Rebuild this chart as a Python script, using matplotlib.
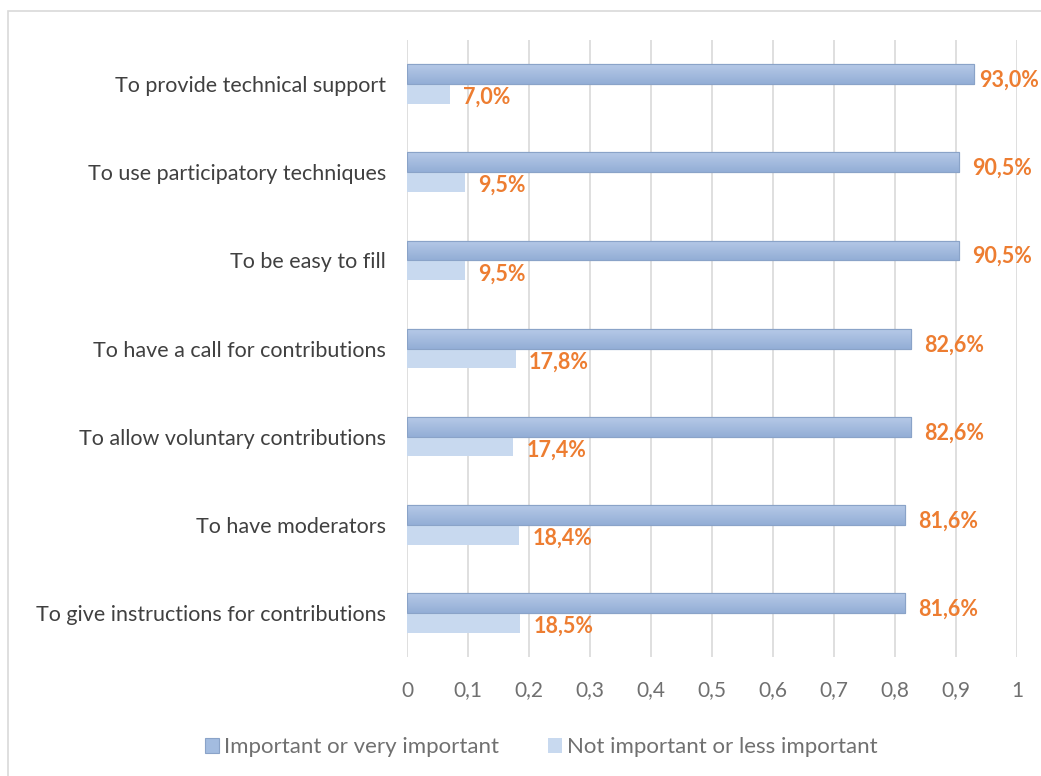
import matplotlib.pyplot as plt
import numpy as np
from matplotlib.patches import Rectangle
from matplotlib.colors import LinearSegmentedColormap

# Survey results: share of respondents per requirement
categories = [
    "To provide technical support",
    "To use participatory techniques",
    "To be easy to fill",
    "To have a call for contributions",
    "To allow voluntary contributions",
    "To have moderators",
    "To give instructions for contributions",
]
important = [0.930, 0.905, 0.905, 0.826, 0.826, 0.816, 0.816]
not_important = [0.070, 0.095, 0.095, 0.178, 0.174, 0.184, 0.185]
series_names = ["Important or very important", "Not important or less important"]
xticks = [0, 0.1, 0.2, 0.3, 0.4, 0.5, 0.6, 0.7, 0.8, 0.9, 1]

plt.rcParams['font.family'] = ['Lato', 'DejaVu Sans']

fig = plt.figure(figsize=(10.41, 7.76), dpi=100)
ax = fig.add_axes([0.391, 0.1534, 0.586, 0.795])

# outer frame around the chart area
fig.patches.append(Rectangle((8 / 1041, -0.1), 1.1, 1.1 - 11 / 776, transform=fig.transFigure,
                             fill=False, edgecolor='#D9D9D9', linewidth=1.2))

y = np.arange(len(categories))
h = 0.225
dark_col = '#A3BCE0'
light_col = '#C8D9EF'
b1 = ax.barh(y - h / 2, important, height=h, color=dark_col, edgecolor='#8AA3C8',
             linewidth=0.8, label=series_names[0], zorder=3)
b2 = ax.barh(y + h / 2, not_important, height=h, color=light_col, linewidth=0,
             label=series_names[1], zorder=3)

# vertical shading on the dark bars (lighter top, darker bottom)
grad = LinearSegmentedColormap.from_list('g', ['#B6C9E7', '#93AED6'])
for bar in b1:
    x0, y0 = bar.get_x(), bar.get_y()
    w, hh = bar.get_width(), bar.get_height()
    im = ax.imshow(np.linspace(0, 1, 50).reshape(-1, 1), cmap=grad, aspect='auto',
                   extent=(x0, x0 + w, y0 + hh, y0), origin='upper', zorder=3.1)
    im.set_clip_path(bar)
    edge = Rectangle((x0, y0), w, hh, fill=False, edgecolor='#8AA3C8', linewidth=0.8, zorder=3.2)
    ax.add_patch(edge)

fmt = lambda v: f"{v * 100:.1f}%".replace('.', ',')
for yi, v in zip(y, important):
    gap = 0.022 if v < 0.92 else 0.008  # keep the longest label inside the figure
    ax.text(v + gap, yi - h / 2 + 0.07, fmt(v), color='#ED7D31', fontsize=15.5,
            fontweight='bold', va='center', ha='left', zorder=4, clip_on=False)
for yi, v in zip(y, not_important):
    ax.text(v + 0.022, yi + h / 2 + 0.04, fmt(v), color='#ED7D31', fontsize=15.5,
            fontweight='bold', va='center', ha='left', zorder=4)

ax.set_ylim(len(categories) - 0.5, -0.5)
ax.set_xlim(0, 1)
ax.set_yticks(y)
ax.set_yticklabels(categories, fontsize=15.5, color='#404040')
ax.set_xticks(xticks)
ax.set_xticklabels([str(t).replace('.', ',') for t in xticks], fontsize=15, color='#707070')
ax.tick_params(axis='both', length=0)
ax.tick_params(axis='y', pad=15)
ax.tick_params(axis='x', pad=17)
ax.xaxis.grid(True, color='#D9D9D9', linewidth=1.2, zorder=0)
for s in ax.spines.values():
    s.set_visible(False)

leg = fig.legend(handles=[b1, b2], labels=series_names, loc='center',
                 bbox_to_anchor=(541 / 1041, 1 - 747 / 776), ncol=2, frameon=False,
                 fontsize=16, handlelength=0.65, handleheight=0.65, handletextpad=0.2,
                 columnspacing=2.2)
for t in leg.get_texts():
    t.set_color('#707070')

fig.savefig('out.png', dpi=100)
